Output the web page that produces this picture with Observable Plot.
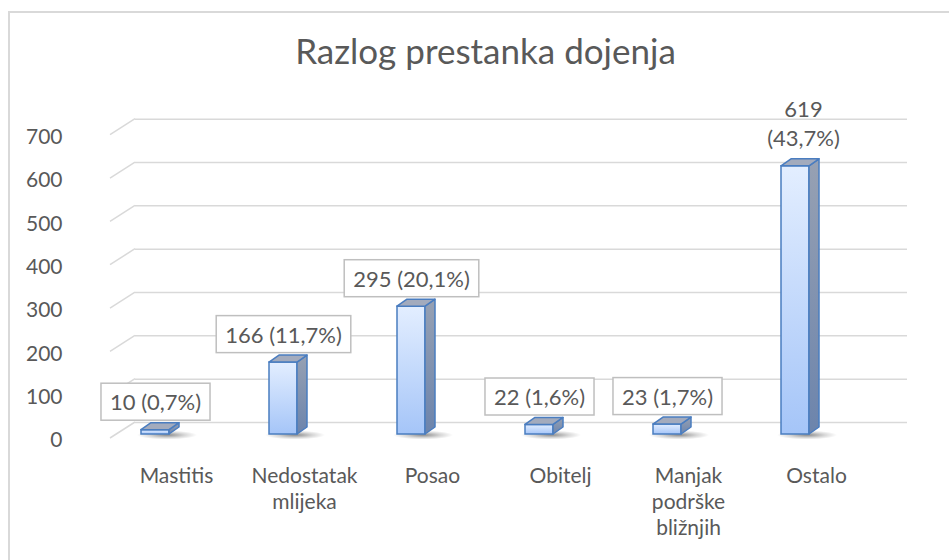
<!DOCTYPE html>
<html><head><meta charset="utf-8">
<script src="https://cdn.jsdelivr.net/npm/d3@7"></script>
<script src="https://cdn.jsdelivr.net/npm/@observablehq/plot@0.6"></script>
<style>
html,body{margin:0;padding:0;background:#fff;overflow:hidden}
#wrap{position:relative;width:949px;height:560px;overflow:hidden;background:#fff}
#border{position:absolute;left:8px;top:11px;width:1200px;height:1200px;border-left:2px solid #d9d9d9;border-top:2px solid #d9d9d9}
#chart{position:absolute;left:0;top:0}
</style></head><body>
<div id="wrap"><div id="border"></div><div id="chart"></div></div>
<script>
const title = "Razlog prestanka dojenja";
const categories = ["Mastitis", "Nedostatak mlijeka", "Posao", "Obitelj", "Manjak podrške bližnjih", "Ostalo"];
const categoryLabels = ["Mastitis", "Nedostatak\nmlijeka", "Posao", "Obitelj", "Manjak\npodrške\nbližnjih", "Ostalo"];
const counts = [10, 166, 295, 22, 23, 619];
const percents = ["0,7%", "11,7%", "20,1%", "1,6%", "1,7%", "43,7%"];
const yTicks = [0, 100, 200, 300, 400, 500, 600, 700];

const FONT = "Lato, 'Open Sans', sans-serif";
const TEXT = "#595959";
const GRID = "#d9d9d9";
const EDGE = "#4a7dc0";
const INSET = 50, DX = 10, DY = 7;

const data = categories.map((c, i) => ({category: c, label: categoryLabels[i], count: counts[i], pct: percents[i]}));

function gridDiagonals(index, scales) {
  const y = scales.y;
  const g = d3.create("svg:g");
  yTicks.forEach(v => {
    g.append("path")
      .attr("d", `M110,${y(v) + 4}L135,${y(v) - 12}`)
      .attr("stroke", GRID).attr("stroke-width", 1.5).attr("fill", "none");
  });
  return g.node();
}

function shadows(index, scales) {
  const {x, y} = scales;
  const bw = x.bandwidth();
  const g = d3.create("svg:g");
  data.forEach(d => {
    const R = x(d.category) + bw - INSET;
    g.append("ellipse")
      .attr("cx", R - 2).attr("cy", y(0) + 1)
      .attr("rx", 30).attr("ry", 4.5)
      .attr("fill", "url(#shadowGrad)");
  });
  return g.node();
}

function bars3d(index, scales) {
  const {x, y} = scales;
  const bw = x.bandwidth();
  const g = d3.create("svg:g");
  data.forEach(d => {
    const L = x(d.category) + INSET, R = x(d.category) + bw - INSET;
    const yt = y(d.count), yb = y(0);
    g.append("path")
      .attr("d", `M${R},${yt}L${R + DX},${yt - DY}L${R + DX},${yb - DY}L${R},${yb}Z`)
      .attr("fill", "url(#sideGrad)").attr("stroke", EDGE).attr("stroke-width", 1.5).attr("stroke-linejoin", "round");
    g.append("path")
      .attr("d", `M${L},${yt}L${L + DX},${yt - DY}L${R + DX},${yt - DY}L${R},${yt}Z`)
      .attr("fill", "#a3abbd").attr("stroke", EDGE).attr("stroke-width", 1.5).attr("stroke-linejoin", "round");
  });
  return g.node();
}

const chart = Plot.plot({
  width: 949,
  height: 560,
  marginLeft: 0, marginRight: 0, marginTop: 0, marginBottom: 0,
  style: {fontFamily: FONT, background: "transparent", overflow: "visible"},
  x: {domain: categories, range: [88.6, 861.4], padding: 0, axis: null},
  y: {domain: [0, 700], range: [434, 130.7], axis: null},
  marks: [
    Plot.ruleY(yTicks, {y: d => d, dy: -12, insetLeft: 135, insetRight: 42, stroke: GRID, strokeWidth: 1.5}),
    gridDiagonals,
    Plot.text(yTicks, {y: d => d, text: d => String(d), frameAnchor: "left", dx: 62, dy: 6, textAnchor: "end", fontSize: 21, fill: TEXT}),
    shadows,
    Plot.barY(data, {x: "category", y: "count", insetLeft: INSET, insetRight: INSET, fill: "url(#frontGrad)", stroke: EDGE, strokeWidth: 1.5}),
    bars3d,
    Plot.text(data.filter((d, i) => i < 5), {x: "category", y: "count", text: d => `${d.count} (${d.pct})`, dy: -27, fontSize: 22, fill: TEXT, ariaDescription: "datalabels"}),
    Plot.text(data.filter((d, i) => i === 5), {x: "category", y: "count", text: d => `${d.count}\n(${d.pct})`, dy: -44, dx: 8, lineHeight: 1.34, fontSize: 22, fill: TEXT}),
    Plot.text(data, {x: "category", y: () => 0, text: "label", lineAnchor: "top", dy: 30.4, dx: 21, lineHeight: 1.227, fontSize: 21, fill: TEXT}),
    Plot.text([title], {frameAnchor: "top", text: d => d, dx: 10.5, dy: 38.2, lineAnchor: "top", fontSize: 35, fill: TEXT})
  ]
});

document.getElementById("chart").appendChild(chart);

const svg = d3.select(chart);
const defs = svg.insert("defs", ":first-child");
const fg = defs.append("linearGradient").attr("id", "frontGrad").attr("x1", 0).attr("y1", 0).attr("x2", 0).attr("y2", 1);
fg.append("stop").attr("offset", "0%").attr("stop-color", "#e3eeff");
fg.append("stop").attr("offset", "100%").attr("stop-color", "#a5c5f8");
const sg = defs.append("linearGradient").attr("id", "sideGrad").attr("x1", 0).attr("y1", 0).attr("x2", 0).attr("y2", 1);
sg.append("stop").attr("offset", "0%").attr("stop-color", "#97a1b3");
sg.append("stop").attr("offset", "100%").attr("stop-color", "#6c84ac");
const rg = defs.append("radialGradient").attr("id", "shadowGrad");
rg.append("stop").attr("offset", "0%").attr("stop-color", "#000").attr("stop-opacity", 0.45);
rg.append("stop").attr("offset", "60%").attr("stop-color", "#000").attr("stop-opacity", 0.15);
rg.append("stop").attr("offset", "100%").attr("stop-color", "#000").attr("stop-opacity", 0);

let labelTexts = svg.selectAll('g[aria-description="datalabels"] text');
if (labelTexts.empty()) {
  labelTexts = svg.selectAll("text").filter(function () { return /^\d+ \(/.test(this.textContent); });
}
labelTexts.each(function () {
  const b = this.getBBox();
  const r = document.createElementNS("http://www.w3.org/2000/svg", "rect");
  const t = this.getAttribute("transform");
  if (t) r.setAttribute("transform", t);
  r.setAttribute("x", b.x - 9);
  r.setAttribute("y", b.y + b.height / 2 - 18.5);
  r.setAttribute("width", b.width + 18);
  r.setAttribute("height", 37);
  r.setAttribute("fill", "#fff");
  r.setAttribute("stroke", "#bfbfbf");
  r.setAttribute("stroke-width", 1.5);
  this.parentNode.insertBefore(r, this);
});
</script>
</body></html>
